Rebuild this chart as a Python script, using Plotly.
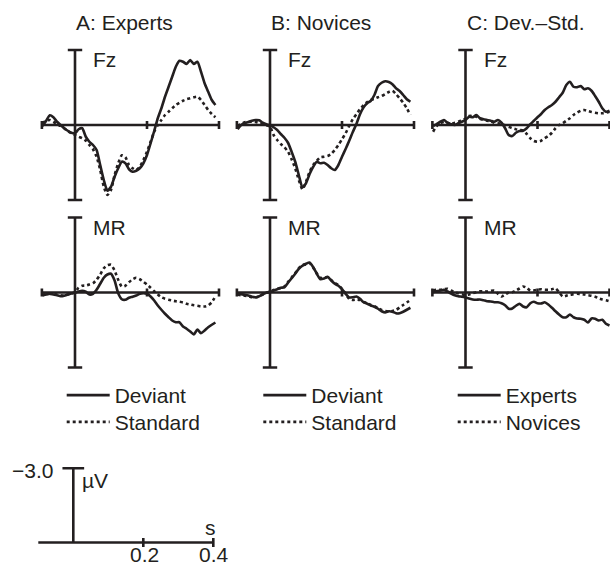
import plotly.graph_objects as go

# ---------------- data (µV, negative plotted upward) ----------------
time_s = [-0.09, -0.08, -0.07, -0.06, -0.05, -0.04, -0.03, -0.02, -0.01, 0.00,
          0.01, 0.02, 0.03, 0.04, 0.05, 0.06, 0.07, 0.08, 0.09, 0.10,
          0.11, 0.12, 0.13, 0.14, 0.15, 0.16, 0.17, 0.18, 0.19, 0.20,
          0.21, 0.22, 0.23, 0.24, 0.25, 0.26, 0.27, 0.28, 0.29, 0.30,
          0.31, 0.32, 0.33, 0.34, 0.35, 0.36, 0.37, 0.38, 0.39, 0.40]

# A: Experts, Fz
a_fz_dev = [0.04, -0.17, -0.39, -0.31, -0.13, 0.00, 0.13, 0.23, 0.31, 0.33,
            0.17, 0.13, 0.47, 0.67, 0.80, 1.00, 1.60, 2.20, 2.63, 2.47,
            2.07, 1.73, 1.47, 1.53, 1.77, 1.87, 1.83, 1.73, 1.53, 1.20,
            0.73, 0.24, -0.27, -0.67, -1.13, -1.53, -1.93, -2.33, -2.57, -2.53,
            -2.44, -2.60, -2.44, -2.53, -2.13, -1.67, -1.33, -1.00, -0.80, None]
a_fz_std = [-0.07, -0.17, -0.20, -0.13, -0.04, 0.04, 0.13, 0.24, 0.33, 0.40,
            0.47, 0.53, 0.63, 0.80, 0.97, 1.27, 1.80, 2.47, 2.80, 2.60,
            2.00, 1.53, 1.21, 1.29, 1.60, 1.73, 1.80, 1.67, 1.40, 1.07,
            0.67, 0.27, 0.00, -0.20, -0.40, -0.53, -0.67, -0.80, -0.89, -0.97,
            -1.03, -1.07, -1.11, -1.13, -1.00, -0.80, -0.60, -0.44, -0.31, None]
# B: Novices, Fz
b_fz_dev = [0.17, 0.00, -0.07, -0.12, -0.17, -0.20, -0.19, -0.09, -0.03, 0.01,
            0.09, 0.20, 0.36, 0.51, 0.71, 1.07, 1.47, 2.00, 2.49, 2.33,
            1.96, 1.67, 1.47, 1.53, 1.51, 1.60, 1.73, 1.80, 1.60, 1.27,
            0.96, 0.63, 0.28, -0.04, -0.43, -0.71, -0.87, -0.97, -1.20, -1.56,
            -1.69, -1.75, -1.72, -1.63, -1.47, -1.36, -1.20, -1.03, -0.93, None]
b_fz_std = [0.04, -0.04, -0.11, -0.13, -0.13, -0.12, -0.08, -0.04, 0.01, 0.07,
            0.40, 0.60, 0.76, 0.89, 1.07, 1.37, 1.73, 2.20, 2.57, 2.27,
            1.87, 1.60, 1.43, 1.29, 1.27, 1.24, 1.16, 1.00, 0.80, 0.57,
            0.33, 0.04, -0.23, -0.43, -0.63, -0.79, -0.92, -1.00, -1.05, -1.11,
            -1.16, -1.24, -1.32, -1.37, -1.24, -1.07, -0.89, -0.67, -0.40, None]
# C: Dev.-Std., Fz
c_fz_exp = [0.04, -0.04, -0.13, -0.20, -0.09, -0.03, 0.00, -0.07, -0.13, -0.20,
            -0.33, -0.31, -0.40, -0.27, -0.23, -0.20, -0.17, -0.13, -0.20, -0.09,
            0.13, 0.40, 0.44, 0.31, 0.24, 0.23, 0.13, -0.03, -0.17, -0.31,
            -0.44, -0.60, -0.71, -0.80, -0.93, -1.11, -1.29, -1.60, -1.73, -1.53,
            -1.51, -1.56, -1.43, -1.47, -1.37, -1.16, -0.93, -0.67, -0.53, -0.57]
c_fz_nov = [0.27, 0.04, -0.07, -0.12, -0.09, -0.04, -0.09, -0.13, -0.20, -0.25,
            -0.36, -0.36, -0.33, -0.25, -0.20, -0.17, -0.15, -0.09, -0.07, -0.04,
            0.01, 0.07, 0.13, 0.17, 0.20, 0.23, 0.36, 0.53, 0.64, 0.67,
            0.63, 0.53, 0.44, 0.31, 0.13, 0.00, -0.07, -0.17, -0.27, -0.40,
            -0.49, -0.57, -0.60, -0.56, -0.52, -0.49, -0.47, -0.47, -0.49, -0.53]
# A: Experts, MR
a_mr_dev = [0.12, 0.08, 0.05, 0.08, 0.11, 0.15, 0.13, 0.08, 0.04, 0.01,
            -0.04, -0.07, -0.03, 0.08, 0.05, -0.11, -0.35, -0.59, -0.72, -0.75,
            -0.48, 0.03, 0.27, 0.29, 0.21, 0.17, 0.12, 0.05, 0.03, 0.05,
            0.16, 0.32, 0.52, 0.69, 0.85, 0.99, 1.12, 1.19, 1.19, 1.36,
            1.45, 1.56, 1.68, 1.48, 1.63, 1.52, 1.39, 1.29, 1.20, None]
a_mr_std = [0.08, 0.07, 0.05, 0.07, 0.08, 0.11, 0.12, 0.08, 0.04, -0.01,
            -0.19, -0.27, -0.28, -0.32, -0.37, -0.51, -0.72, -0.97, -1.09, -1.11,
            -0.88, -0.51, -0.24, -0.27, -0.41, -0.53, -0.59, -0.53, -0.43, -0.32,
            -0.19, -0.05, 0.08, 0.19, 0.25, 0.29, 0.32, 0.35, 0.37, 0.40,
            0.45, 0.48, 0.51, 0.53, 0.56, 0.56, 0.52, 0.39, 0.16, None]
# B: Novices, MR
b_mr_dev = [0.05, 0.07, 0.09, 0.12, 0.17, 0.19, 0.15, 0.07, 0.01, -0.01,
            -0.08, -0.13, -0.19, -0.21, -0.39, -0.57, -0.75, -0.95, -1.07, -1.15,
            -1.20, -1.01, -0.75, -0.53, -0.56, -0.63, -0.48, -0.35, -0.27, -0.13,
            0.05, 0.20, 0.19, 0.16, 0.25, 0.39, 0.45, 0.52, 0.57, 0.65,
            0.75, 0.80, 0.75, 0.77, 0.83, 0.83, 0.77, 0.69, 0.61, None]
b_mr_std = [0.08, 0.11, 0.13, 0.15, 0.19, 0.20, 0.16, 0.08, 0.01, -0.04,
            -0.10, -0.15, -0.17, -0.24, -0.42, -0.60, -0.78, -0.97, -1.10, -1.12,
            -1.17, -1.00, -0.76, -0.58, -0.60, -0.60, -0.50, -0.38, -0.30, -0.15,
            0.05, 0.25, 0.30, 0.28, 0.30, 0.38, 0.42, 0.50, 0.55, 0.62,
            0.70, 0.74, 0.76, 0.74, 0.70, 0.60, 0.50, 0.40, 0.30, None]
# C: Dev.-Std., MR
c_mr_exp = [-0.01, -0.05, -0.08, -0.11, -0.04, 0.04, 0.11, 0.15, 0.17, 0.20,
            0.24, 0.28, 0.29, 0.28, 0.31, 0.35, 0.36, 0.39, 0.39, 0.43,
            0.51, 0.65, 0.64, 0.53, 0.45, 0.56, 0.59, 0.43, 0.37, 0.43,
            0.44, 0.39, 0.48, 0.61, 0.75, 0.88, 0.99, 0.99, 0.88, 0.99,
            1.04, 1.05, 1.09, 1.20, 1.04, 1.05, 1.12, 1.09, 1.25, 1.32]
c_mr_nov = [-0.08, -0.11, -0.11, -0.13, -0.15, -0.08, -0.01, 0.03, 0.07, 0.11,
            0.08, 0.03, -0.01, -0.05, -0.05, -0.04, -0.07, -0.08, 0.05, 0.16,
            0.08, 0.00, -0.01, -0.08, -0.16, -0.24, -0.19, -0.07, -0.08, -0.11,
            -0.13, -0.11, -0.11, -0.13, -0.17, -0.01, 0.16, 0.13, 0.09, 0.07,
            0.05, 0.07, 0.08, 0.11, 0.13, 0.17, 0.23, 0.28, 0.31, 0.35]

panel_titles = ["A: Experts", "B: Novices", "C: Dev.\u2013Std."]
site_labels = ["Fz", "MR"]
legend_names = [("Deviant", "Standard"), ("Deviant", "Standard"), ("Experts", "Novices")]

# axis frame of each panel (seconds / µV)
epoch_start, epoch_end, mid_tick = -0.092, 0.40, 0.20
amp_limit = 3.0
# calibration bar
cal_amp = -3.0
cal_amp_label = "\u22123.0"
cal_unit_v, cal_unit_t = "\u00b5V", "s"
cal_start, cal_ticks = -0.10, [0.2, 0.4]
cal_tick_labels = ["0.2", "0.4"]

# ---------------- layout geometry ----------------
W, H = 610, 566
INK = "#231f20"
FONT = "Liberation Sans, Arial, Helvetica, sans-serif"
FS = 21
LW = 2.6

col_zero = [75.0, 270.0, 465.5]
row_mid = [125.0, 292.5]
px_per_s = 360.0
px_per_uv = 25.0
t_lo, t_hi = -0.12, 0.42
v_pad = 3.4


def px_x(p):
    return p / W


def px_y(p):
    return 1 - p / H


fig = go.Figure()
layout_axes = {}
annotations = []

series = [[(a_fz_dev, a_fz_std), (b_fz_dev, b_fz_std), (c_fz_exp, c_fz_nov)],
          [(a_mr_dev, a_mr_std), (b_mr_dev, b_mr_std), (c_mr_exp, c_mr_nov)]]
# one legend per entry so each row can be placed exactly
legend_ids = [("legend", "legend2"), ("legend3", "legend4"), ("legend5", "legend6")]

for r in range(2):
    for c in range(3):
        k = r * 3 + c + 1
        z = col_zero[c]
        hi = min(t_hi, (W - z) / px_per_s)
        xd = [max(0.0, (z + px_per_s * t_lo) / W), min(1.0, (z + px_per_s * hi) / W)]
        yd = [1 - (row_mid[r] + v_pad * px_per_uv) / H, 1 - (row_mid[r] - v_pad * px_per_uv) / H]
        sx = "" if k == 1 else str(k)
        layout_axes["xaxis" + sx] = dict(domain=xd, range=[t_lo, hi], visible=False,
                                         anchor="y" + sx, fixedrange=True)
        layout_axes["yaxis" + sx] = dict(domain=yd, range=[v_pad, -v_pad], visible=False,
                                         anchor="x" + sx, fixedrange=True)
        xa, ya = "x" + sx, "y" + sx
        cap = 0.02
        tk = 0.16
        fx = [0, 0, None, -cap, cap, None, -cap, cap, None,
              epoch_start, epoch_end, None,
              epoch_start, epoch_start, None, mid_tick, mid_tick, None, epoch_end, epoch_end]
        fy = [-amp_limit, amp_limit, None, -amp_limit, -amp_limit, None, amp_limit, amp_limit, None,
              0, 0, None, -tk, tk, None, -tk, tk, None, -tk, tk]
        fig.add_trace(go.Scatter(x=fx, y=fy, xaxis=xa, yaxis=ya, mode="lines",
                                 line=dict(color=INK, width=LW), showlegend=False,
                                 hoverinfo="skip"))
        solid, dotted = series[r][c]
        n1, n2 = legend_names[c]
        l1, l2 = legend_ids[c]
        fig.add_trace(go.Scatter(x=time_s, y=dotted, xaxis=xa, yaxis=ya, mode="lines",
                                 name=n2, legend=l2, showlegend=(r == 0),
                                 line=dict(color=INK, width=LW, dash="dot", shape="spline",
                                           smoothing=0.6)))
        fig.add_trace(go.Scatter(x=time_s, y=solid, xaxis=xa, yaxis=ya, mode="lines",
                                 name=n1, legend=l1, showlegend=(r == 0),
                                 line=dict(color=INK, width=LW, shape="spline", smoothing=0.6)))
        annotations.append(dict(text=site_labels[r], x=px_x(z + 16),
                                y=px_y(row_mid[r] - 65), xref="paper", yref="paper",
                                xanchor="left", yanchor="middle", showarrow=False,
                                font=dict(family=FONT, size=FS, color=INK)))
for c in range(3):
    annotations.append(dict(text=panel_titles[c], x=px_x(col_zero[c] - 1), y=px_y(23),
                            xref="paper", yref="paper", xanchor="left", yanchor="middle",
                            showarrow=False, font=dict(family=FONT, size=FS, color=INK)))

# calibration bar subplot
cz, cpx_s, cpx_uv, c_top = 73.3, 350.0, 24.73, 468.3
ct_lo, ct_hi = -0.12, 0.42
cv_lo, cv_hi = -3.4, 0.8
layout_axes["xaxis7"] = dict(domain=[(cz + cpx_s * ct_lo) / W, (cz + cpx_s * ct_hi) / W],
                             range=[ct_lo, ct_hi], visible=False, anchor="y7", fixedrange=True)
y_top_px = c_top + (cv_lo - cal_amp) * cpx_uv
y_bot_px = c_top + (cv_hi - cal_amp) * cpx_uv
layout_axes["yaxis7"] = dict(domain=[1 - y_bot_px / H, 1 - y_top_px / H], range=[cv_hi, cv_lo],
                             visible=False, anchor="x7", fixedrange=True)
ccap = 0.031
bx = [0, 0, None, -ccap, ccap, None, cal_start, cal_ticks[-1]]
by = [0, cal_amp, None, cal_amp, cal_amp, None, 0, 0]
for tv in cal_ticks:
    bx += [None, tv, tv]
    by += [None, -0.18, 0.18]
fig.add_trace(go.Scatter(x=bx, y=by, xaxis="x7", yaxis="y7", mode="lines",
                         line=dict(color=INK, width=LW), showlegend=False, hoverinfo="skip"))

annotations.append(dict(text=cal_amp_label, x=px_x(55), y=px_y(470), xref="paper", yref="paper",
                        xanchor="right", yanchor="middle", showarrow=False,
                        font=dict(family=FONT, size=FS, color=INK)))
annotations.append(dict(text=cal_unit_v, x=px_x(80), y=px_y(480), xref="paper", yref="paper",
                        xanchor="left", yanchor="middle", showarrow=False,
                        font=dict(family=FONT, size=FS, color=INK)))
annotations.append(dict(text=cal_unit_t, x=px_x(210), y=px_y(527), xref="paper", yref="paper",
                        xanchor="center", yanchor="middle", showarrow=False,
                        font=dict(family=FONT, size=FS, color=INK)))
for tv, lab in zip(cal_ticks, cal_tick_labels):
    lx = cz + cpx_s * tv
    annotations.append(dict(text=lab, x=px_x(lx + 1), y=px_y(554), xref="paper", yref="paper",
                            xanchor="center", yanchor="middle", showarrow=False,
                            font=dict(family=FONT, size=FS, color=INK)))

legend_common = dict(xanchor="left", yanchor="top", bgcolor="rgba(0,0,0,0)", borderwidth=0,
                     font=dict(family=FONT, size=FS, color=INK), itemwidth=43,
                     traceorder="normal", tracegroupgap=0, itemclick=False,
                     itemdoubleclick=False)
leg_line_start = [66.7, 263.3, 457.7]
leg_rows = [395.0, 421.7]
layout_legends = {}
for c in range(3):
    for j in range(2):
        layout_legends[legend_ids[c][j]] = dict(legend_common,
                                                x=px_x(leg_line_start[c] - 5),
                                                y=px_y(leg_rows[j] - 20))

fig.update_layout(width=W, height=H, autosize=False,
                  margin=dict(l=0, r=0, t=0, b=0, pad=0),
                  paper_bgcolor="white", plot_bgcolor="rgba(0,0,0,0)",
                  showlegend=True, annotations=annotations,
                  font=dict(family=FONT, size=FS, color=INK),
                  **layout_axes, **layout_legends)

fig.write_html("out.html",
               config={"displayModeBar": False, "staticPlot": False},
               post_script="document.body.style.margin='0';document.body.style.padding='0';"
                           "document.body.style.overflow='hidden';")
